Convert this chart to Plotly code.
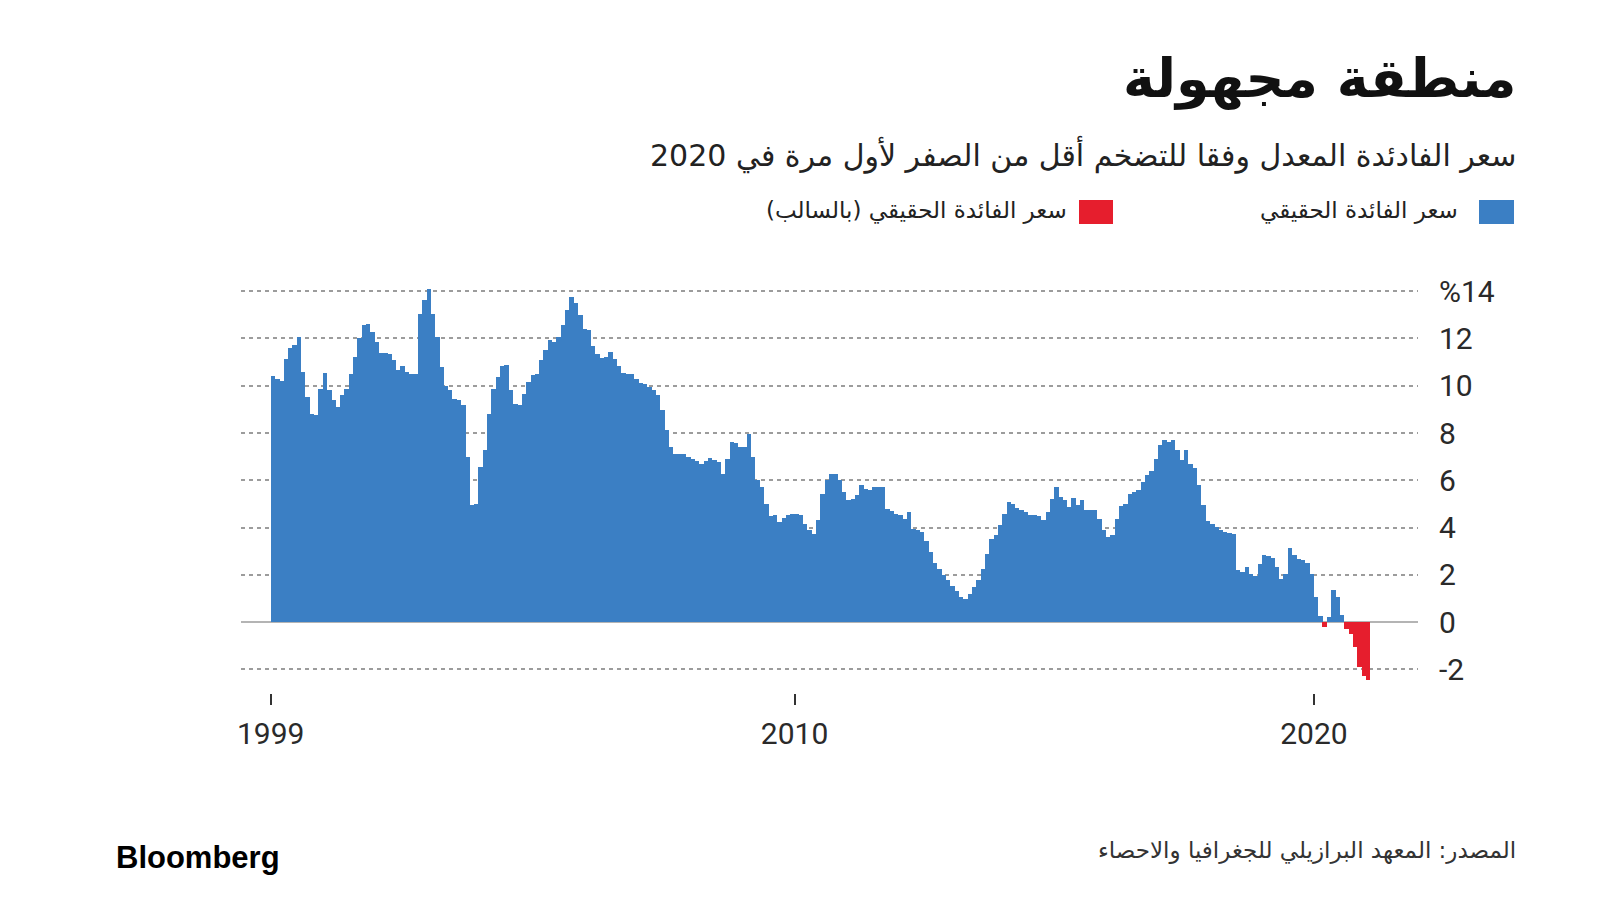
import pandas as pd
import plotly.graph_objects as go

rates_1999_2004 = [
    10.40,
    10.30, 10.20, 11.15, 11.61, 11.71, 12.07, 10.58, 9.53, 8.82, 8.75, 9.88, 10.54,
    9.81, 9.38, 9.10, 9.60, 9.88, 10.51, 11.22, 12.00, 12.56, 12.63, 12.28, 11.85,
    11.39, 11.39, 11.36, 11.08, 10.65, 10.82, 10.58, 10.51, 10.51, 13.05, 13.62, 14.11,
    13.05, 12.07, 10.80, 9.98, 9.81, 9.45, 9.38, 9.20, 6.99, 4.94, 5.01, 6.56,
    7.27, 8.82, 9.88, 10.37, 10.82, 10.87, 9.81, 9.24, 9.17, 9.67, 10.16, 10.47,
]
rates_2005_2009 = [
    10.51, 11.08, 11.50, 11.95, 11.85, 12.07, 12.56, 13.19, 13.76, 13.48, 12.98, 12.42,
    12.35, 11.67, 11.36, 11.19, 11.22, 11.43, 11.15, 10.82, 10.54, 10.51, 10.49, 10.30,
    10.12, 10.06, 9.95, 9.81, 9.60, 8.96, 8.11, 7.41, 7.13, 7.13, 7.10, 6.98,
    6.90, 6.80, 6.70, 6.80, 6.95, 6.84, 6.77, 6.28, 6.91, 7.62, 7.58, 7.41,
    7.41, 7.97, 6.99, 6.00, 5.72, 5.01, 4.50, 4.52, 4.23, 4.42, 4.52, 4.59,
]
rates_2010_2014 = [
    4.59, 4.52, 4.16, 3.88, 3.74, 4.30, 5.43, 6.00, 6.25, 6.25, 6.00, 5.50,
    5.15, 5.22, 5.36, 5.79, 5.64, 5.57, 5.72, 5.72, 5.72, 4.80, 4.70, 4.59,
    4.52, 4.37, 4.66, 3.95, 3.88, 3.80, 3.45, 2.95, 2.50, 2.25, 1.98, 1.76,
    1.51, 1.31, 1.06, 0.99, 1.20, 1.48, 1.76, 2.26, 2.89, 3.53, 3.67, 4.09,
    4.59, 5.08, 5.01, 4.84, 4.76, 4.66, 4.52, 4.52, 4.47, 4.30, 4.66, 5.22,
]
rates_2015_2021 = [
    5.72, 5.29, 5.15, 4.87, 5.26, 4.94, 5.15, 4.76, 4.76, 4.73, 4.37, 3.88,
    3.60, 3.67, 4.37, 4.90, 5.01, 5.40, 5.50, 5.57, 5.93, 6.21, 6.40, 6.90,
    7.50, 7.69, 7.60, 7.72, 7.27, 6.84, 7.30, 6.70, 6.50, 5.79, 4.94, 4.28,
    4.16, 4.02, 3.91, 3.81, 3.77, 3.71, 2.20, 2.12, 2.33, 2.05, 1.93, 2.47,
    2.82, 2.78, 2.72, 2.33, 1.83, 2.05, 3.15, 2.82, 2.68, 2.64, 2.50, 2.05,
    1.06, 0.24, -0.21, 0.21, 1.34, 1.06, 0.28, -0.28, -0.49, -1.06, -1.91, -2.30,
    -2.47,
]
start_month = "1999-12-01"

y_tick_values = [-2, 0, 2, 4, 6, 8, 10, 12, 14]
y_tick_labels = ["-2", "0", "2", "4", "6", "8", "10", "12", "%14"]
x_tick_dates = ["1999-12-01", "2010-01-01", "2020-01-01"]
x_tick_labels = ["1999", "2010", "2020"]

title_text = "منطقة مجهولة"
subtitle_text = "سعر الفادئدة المعدل وفقا للتضخم أقل من الصفر لأول مرة في 2020"
legend_pos_text = "سعر الفائدة الحقيقي"
legend_neg_text = "سعر الفائدة الحقيقي (بالسالب)"
source_text = "المصدر: المعهد البرازيلي للجغرافيا والاحصاء"
brand_text = "Bloomberg"

BLUE = "#3b7fc4"
RED = "#e61e2d"

rates = rates_1999_2004 + rates_2005_2009 + rates_2010_2014 + rates_2015_2021
months = pd.date_range(start_month, periods=len(rates), freq="MS")
positive = [v if v >= 0 else None for v in rates]
negative = [v if v < 0 else None for v in rates]

W, H = 1600, 900
L, R, T, B = 241, 182, 277, 207
PW, PH = W - L - R, H - T - B


def px(xp):
    return (xp - L) / PW


def py(yp):
    return (H - B - yp) / PH


MONTH_MS = 31 * 24 * 3600 * 1000

fig = go.Figure()
fig.add_trace(go.Bar(x=months, y=positive, marker_color=BLUE, marker_line_width=0,
                     xperiod="M1", xperiodalignment="middle", width=MONTH_MS,
                     name=legend_pos_text, showlegend=False))
fig.add_trace(go.Bar(x=months, y=negative, marker_color=RED, marker_line_width=0,
                     xperiod="M1", xperiodalignment="middle", width=MONTH_MS,
                     name=legend_neg_text, showlegend=False))

AR = "DejaVu Sans, Noto Sans, sans-serif"
NUM = "Liberation Sans Narrow, Roboto, Liberation Sans, sans-serif"

fig.update_layout(
    width=W, height=H,
    margin=dict(l=L, r=R, t=T, b=B, pad=0),
    paper_bgcolor="white", plot_bgcolor="white",
    barmode="overlay", bargap=0,
    xaxis=dict(
        type="date", range=["1999-05-06", "2022-01-02"],
        tickvals=x_tick_dates, ticktext=x_tick_labels,
        ticks="outside", ticklen=11, tickwidth=1.5, tickcolor="#333",
        showgrid=False, showline=False, zeroline=False,
        tickfont=dict(family=NUM, size=30, color="#2a2a2a"),
        ticklabelstandoff=3,
    ),
    yaxis=dict(
        range=[-3.0, 14.6], side="right",
        tickvals=y_tick_values, ticktext=y_tick_labels,
        showgrid=True, gridcolor="#9c9c9c", griddash="4px,4px", gridwidth=1.5,
        zeroline=True, zerolinecolor="#b4b4b4", zerolinewidth=2,
        showline=False, ticks="",
        tickfont=dict(family=NUM, size=30, color="#2a2a2a"),
        ticklabelstandoff=20,
    ),
)

annotations = [
    dict(text=title_text, x=px(1518), y=py(79), xanchor="right", yanchor="middle",
         font=dict(family=AR, size=54, color="#111", weight="bold")),
    dict(text=subtitle_text, x=px(1518), y=py(155), xanchor="right", yanchor="middle",
         font=dict(family=AR, size=30, color="#222")),
    dict(text=legend_pos_text, x=px(1460), y=py(211), xanchor="right", yanchor="middle",
         font=dict(family=AR, size=23, color="#222")),
    dict(text=legend_neg_text, x=px(1069), y=py(211), xanchor="right", yanchor="middle",
         font=dict(family=AR, size=23, color="#222")),
    dict(text=source_text, x=px(1518), y=py(850), xanchor="right", yanchor="middle",
         font=dict(family=AR, size=23, color="#333")),
    dict(text=brand_text, x=px(114), y=py(857), xanchor="left", yanchor="middle",
         font=dict(family="Liberation Sans, Arial, sans-serif", size=31, color="#000",
                   weight="bold")),
]
for a in annotations:
    a.update(xref="paper", yref="paper", showarrow=False)
fig.update_layout(annotations=annotations)

shapes = [
    dict(type="rect", x0=px(1479), x1=px(1514), y0=py(224), y1=py(200), fillcolor=BLUE),
    dict(type="rect", x0=px(1079), x1=px(1113), y0=py(224), y1=py(200), fillcolor=RED),
]
for s in shapes:
    s.update(xref="paper", yref="paper", line_width=0)
fig.update_layout(shapes=shapes)

fig.write_html("out.html")
